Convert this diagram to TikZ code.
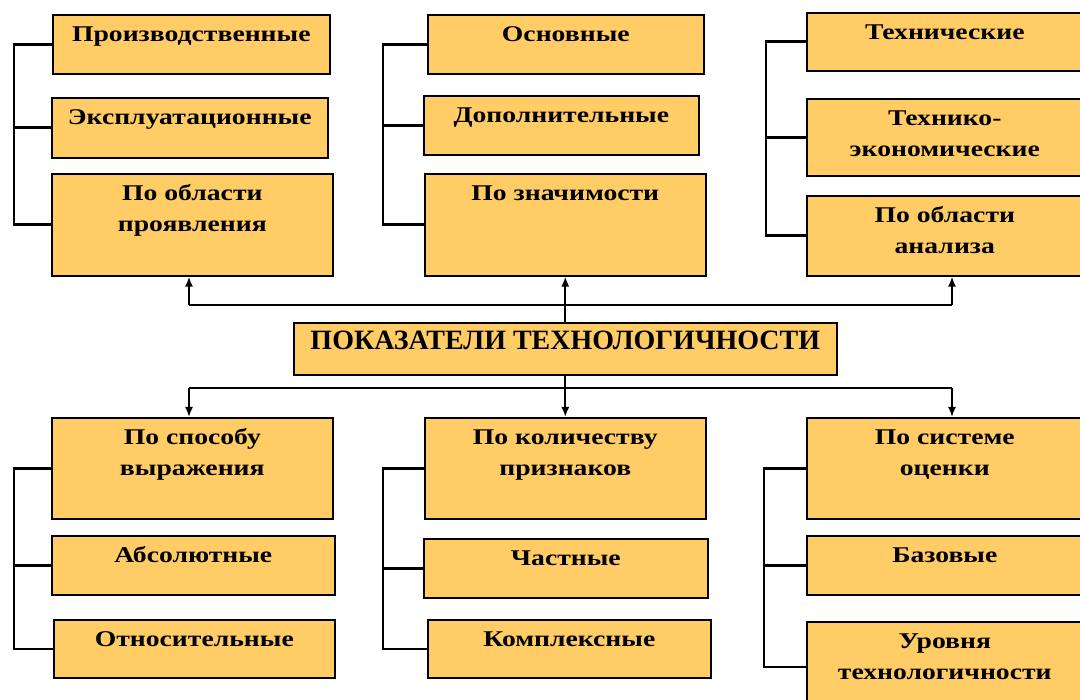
\documentclass[tikz,border=0pt]{standalone}
\usepackage{fontspec}
\setmainfont{Liberation Serif}
\newfontfamily\pokfont{Liberation Serif}[FakeStretch=1.23]
\usetikzlibrary{arrows.meta}
\definecolor{boxfill}{RGB}{255,204,102}
\tikzset{
  pokbox/.style={draw, line width=1.6pt, fill=boxfill, inner sep=0pt, anchor=north west,
    text height=27pt, font=\pokfont\bfseries\fontsize{22.5}{30.5}\selectfont},
  titlebox/.style={pokbox, font=\bfseries\fontsize{28}{32}\selectfont},
  bracket/.style={line width=2.6pt},
  hub/.style={line width=2.4pt},
  arr/.style={line width=1.8pt, -{Latex[length=10pt,width=8pt]}},
}
\newcommand{\pokname}[2]{\parbox[t]{#1}{\centering #2}}

\begin{document}
\begin{tikzpicture}[x=1pt,y=1pt,yscale=-1]
    \useasboundingbox (0,0) rectangle (1080,700);
    \node[pokbox, minimum width=277pt, text depth=32pt] (a1) at (52,14) {\pokname{277pt}{Производственные}};
    \node[pokbox, minimum width=276pt, text depth=33pt] (a2) at (51,97) {\pokname{276pt}{Эксплуатационные}};
    \node[pokbox, minimum width=281pt, text depth=75pt] (a3) at (51,173) {\pokname{281pt}{По области\\проявления}};
    \node[pokbox, minimum width=276pt, text depth=32pt] (b1) at (427,14) {\pokname{276pt}{Основные}};
    \node[pokbox, minimum width=275pt, text depth=32pt] (b2) at (423,95) {\pokname{275pt}{Дополнительные}};
    \node[pokbox, minimum width=281pt, text depth=75pt] (b3) at (424,173) {\pokname{281pt}{По значимости}};
    \node[pokbox, minimum width=276pt, text depth=31pt] (c1) at (806,12) {\pokname{276pt}{Технические}};
    \node[pokbox, minimum width=276pt, text depth=50pt] (c2) at (806,98) {\pokname{276pt}{Технико-\\экономические}};
    \node[pokbox, minimum width=276pt, text depth=53pt] (c3) at (806,195) {\pokname{276pt}{По области\\анализа}};
    \node[titlebox, minimum width=543pt, text depth=25pt] (t) at (293,322) {\pokname{543pt}{ПОКАЗАТЕЛИ ТЕХНОЛОГИЧНОСТИ}};
    \node[pokbox, minimum width=281pt, text depth=74pt] (d1) at (51,417) {\pokname{281pt}{По способу\\выражения}};
    \node[pokbox, minimum width=283pt, text depth=32pt] (d2) at (51,535) {\pokname{283pt}{Абсолютные}};
    \node[pokbox, minimum width=281pt, text depth=31pt] (d3) at (53,619) {\pokname{281pt}{Относительные}};
    \node[pokbox, minimum width=281pt, text depth=74pt] (e1) at (424,417) {\pokname{281pt}{По количеству\\признаков}};
    \node[pokbox, minimum width=284pt, text depth=32pt] (e2) at (423,538) {\pokname{284pt}{Частные}};
    \node[pokbox, minimum width=283pt, text depth=31pt] (e3) at (427,619) {\pokname{283pt}{Комплексные}};
    \node[pokbox, minimum width=276pt, text depth=74pt] (f1) at (806,417) {\pokname{276pt}{По системе\\оценки}};
    \node[pokbox, minimum width=276pt, text depth=32pt] (f2) at (806,535) {\pokname{276pt}{Базовые}};
    \node[pokbox, minimum width=276pt, text depth=63pt] (f3) at (806,621) {\pokname{276pt}{Уровня\\технологичности}};
    \coordinate (ka) at (14,0);
    \coordinate (kb) at (383,0);
    \coordinate (kc) at (766,0);
    \coordinate (kd) at (14,0);
    \coordinate (ke) at (383,0);
    \coordinate (kf) at (764,0);
    \draw[bracket] (a1.west) -- (a1.west -| ka) -- (a3.west -| ka) -- (a3.west);
    \draw[bracket] (a2.west) -- (a2.west -| ka);
    \draw[bracket] (b1.west) -- (b1.west -| kb) -- (b3.west -| kb) -- (b3.west);
    \draw[bracket] (b2.west) -- (b2.west -| kb);
    \draw[bracket] (c1.west) -- (c1.west -| kc) -- (c3.west -| kc) -- (c3.west);
    \draw[bracket] (c2.west) -- (c2.west -| kc);
    \draw[bracket] (d1.west) -- (d1.west -| kd) -- (d3.west -| kd) -- (d3.west);
    \draw[bracket] (d2.west) -- (d2.west -| kd);
    \draw[bracket] (e1.west) -- (e1.west -| ke) -- (e3.west -| ke) -- (e3.west);
    \draw[bracket] (e2.west) -- (e2.west -| ke);
    \draw[bracket] (f1.west) -- (f1.west -| kf) -- (f3.west -| kf) -- (f3.west);
    \draw[bracket] (f2.west) -- (f2.west -| kf);
    \coordinate (tl) at (189,305);
    \coordinate (tr) at (952,305);
    \coordinate (bl) at (189,388);
    \coordinate (br) at (952,388);
    \draw[hub] (tl) -- (tr);
    \draw[hub] (bl) -- (br);
    \draw[arr] (t.north) -- (b3.south);
    \draw[arr] (tl) -- (tl |- a3.south);
    \draw[arr] (tr) -- (tr |- c3.south);
    \draw[arr] (t.south) -- (e1.north);
    \draw[arr] (bl) -- (bl |- d1.north);
    \draw[arr] (br) -- (br |- f1.north);
\end{tikzpicture}
\end{document}
